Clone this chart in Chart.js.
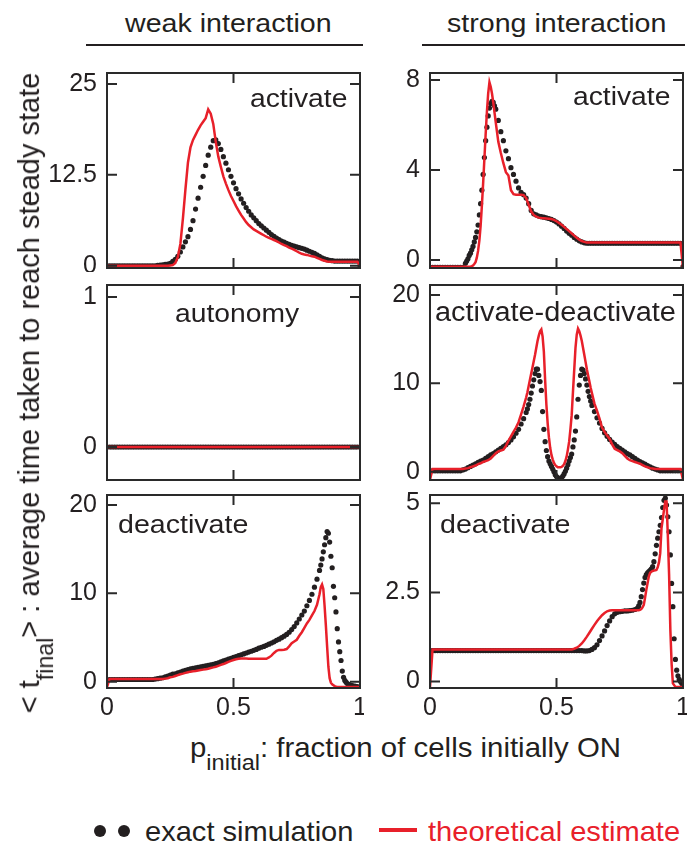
<!DOCTYPE html>
<html>
<head>
<meta charset="utf-8">
<script src="https://cdn.jsdelivr.net/npm/chart.js@4.4.1/dist/chart.umd.min.js"></script>
<style>
  html, body { margin: 0; padding: 0; background: #fff; }
  body { position: relative; width: 697px; height: 848px; overflow: hidden;
         font-family: 'Liberation Sans', Arial, Helvetica, sans-serif; color: #231f20; }
  canvas { position: absolute; }
  .txt { position: absolute; white-space: nowrap; line-height: 1; transform-origin: 0 0; }
  .rule { position: absolute; height: 2px; background: #231f20; }
  sub { font-size: 0.8em; vertical-align: -0.6em; line-height: 0; }
  .dot { position: absolute; width: 12px; height: 12px; border-radius: 50%; background: #231f20; }
</style>
</head>
<body>

<div class="txt" style="left:125px;top:10px;font-size:26px;transform:scaleX(1.1)">weak interaction</div>
<div class="rule" style="left:86px;top:44px;width:277px"></div>
<div class="txt" style="left:447px;top:10px;font-size:26px;transform:scaleX(1.1)">strong interaction</div>
<div class="rule" style="left:422px;top:44px;width:263px"></div>

<canvas id="cWeakAct" width="317" height="203" style="left:47px;top:69px"></canvas>
<canvas id="cStrongAct" width="317" height="203" style="left:370px;top:69px"></canvas>
<canvas id="cWeakAut" width="317" height="203" style="left:47px;top:281px"></canvas>
<canvas id="cStrongAD" width="317" height="203" style="left:370px;top:281px"></canvas>
<canvas id="cWeakDeact" width="317" height="237" style="left:47px;top:491px"></canvas>
<canvas id="cStrongDeact" width="317" height="237" style="left:370px;top:491px"></canvas>

<!-- panel labels -->
<div class="txt" style="left:250px;top:86px;font-size:25px;transform:scaleX(1.13)">activate</div>
<div class="txt" style="left:573px;top:84px;font-size:25px;transform:scaleX(1.13)">activate</div>
<div class="txt" style="left:175px;top:301px;font-size:25px;transform:scaleX(1.13)">autonomy</div>
<div class="txt" style="left:435px;top:299px;font-size:27px;transform:scaleX(1.07)">activate-deactivate</div>
<div class="txt" style="left:118px;top:511px;font-size:26px;transform:scaleX(1.1)">deactivate</div>
<div class="txt" style="left:440px;top:511px;font-size:26px;transform:scaleX(1.1)">deactivate</div>

<!-- axis titles -->
<div class="txt" id="ytitle" style="left:30px;top:393px;font-size:29px;transform-origin:50% 50%;transform:translate(-50%,-50%) rotate(-90deg)">&lt; t<sub>final</sub>&gt; : average time taken to reach steady state</div>
<div class="txt" style="left:190px;top:734px;font-size:28px;transform:scaleX(1.05)">p<sub>initial</sub>: fraction of cells initially ON</div>

<!-- legend -->
<div class="dot" style="left:94px;top:825px"></div>
<div class="dot" style="left:118px;top:825px"></div>
<div class="txt" style="left:145px;top:817px;font-size:28.5px;transform:scaleX(1.02)">exact simulation</div>
<div style="position:absolute;left:379px;top:828px;width:38px;height:4px;background:#e8202a"></div>
<div class="txt" style="left:428px;top:817px;font-size:28.5px;color:#e8202a;transform:scaleX(1.02)">theoretical estimate</div>

<script>
// ---- data: p_initial grids and <t_final> values ----
const pTicks = [0, 0.5, 1];

const pUniform = [0,0.01,0.02,0.03,0.04,0.05,0.06,0.07,0.08,0.09,0.1,0.11,0.12,0.13,0.14,0.15,0.16,0.17,0.18,0.19,
  0.2,0.21,0.22,0.23,0.24,0.25,0.26,0.27,0.28,0.29,0.3,0.31,0.32,0.33,0.34,0.35,0.36,0.37,0.38,0.39,
  0.4,0.41,0.42,0.43,0.44,0.45,0.46,0.47,0.48,0.49,0.5,0.51,0.52,0.53,0.54,0.55,0.56,0.57,0.58,0.59,
  0.6,0.61,0.62,0.63,0.64,0.65,0.66,0.67,0.68,0.69,0.7,0.71,0.72,0.73,0.74,0.75,0.76,0.77,0.78,0.79,
  0.8,0.81,0.82,0.83,0.84,0.85,0.86,0.87,0.88,0.89,0.9,0.91,0.92,0.93,0.94,0.95,0.96,0.97,0.98,0.99,1];

// weak interaction, activate
const weakActTicks = [0, 12.5, 25];
const weakActSim = [0,0,0,0,0,0,0,0,0,0, 0,0,0,0,0,0,0,0,0,0,
  0.05,0.1,0.15,0.2,0.25,0.35,0.6,0.9,1.3,1.9, 2.6,3.3,4.0,5.0,6.2,7.8,9.3,10.8,12.3,13.8,
  15.2,16.3,17.2,17.3,16.8,16.0,15.0,14.1,13.2,12.3, 11.4,10.6,9.9,9.2,8.6,8.0,7.5,7.0,6.6,6.2,
  5.8,5.5,5.2,4.9,4.6,4.3,4.05,3.8,3.6,3.4, 3.25,3.1,2.95,2.8,2.7,2.6,2.5,2.4,2.3,2.15,
  2.0,1.85,1.7,1.5,1.3,1.1,0.95,0.85,0.75,0.7, 0.65,0.65,0.65,0.65,0.65,0.65,0.65,0.65,0.65,0.65,0];
const weakActEst = [0,0,0,0,0,0,0,0,0,0, 0,0,0,0,0,0,0,0,0,0,
  0,0,0,0,0,0.05,0.1,0.4,1.2,3.0, 6.5,10.5,14.2,16.3,17.3,18.0,18.7,19.3,19.8,20.3,
  21.5,20.9,19.5,17.0,15.0,13.6,12.3,11.3,10.4,9.6, 8.9,8.2,7.6,7.0,6.5,6.0,5.6,5.3,5.0,4.8,
  4.6,4.4,4.2,4.0,3.85,3.7,3.55,3.4,3.2,3.0, 2.85,2.7,2.5,2.35,2.2,2.0,1.8,1.65,1.55,1.5,
  1.4,1.3,1.25,1.1,0.95,0.8,0.7,0.6,0.55,0.55, 0.55,0.55,0.55,0.55,0.55,0.55,0.55,0.55,0.55,0.55,0];

// strong interaction, activate
const strongActTicks = [0, 4, 8];
const pStrongAct = [0,0.01,0.02,0.03,0.04,0.05,0.06,0.07,0.08,0.09,0.1,0.11,0.12,0.13,
  0.14,0.145,0.15,0.155,0.16,0.165,0.17,0.175,0.18,0.185,0.19,0.195,0.2,0.205,0.21,0.215,0.22,0.225,0.23,0.235,0.24,0.245,0.25,0.255,0.26,
  0.27,0.28,0.29,0.3,0.31,0.32,0.33,0.34,0.35,0.36,0.37,0.38,0.39,0.4,0.41,0.42,0.43,0.44,0.45,0.46,0.47,0.48,0.49,
  0.5,0.51,0.52,0.53,0.54,0.55,0.56,0.57,0.58,0.59,0.6,0.61,0.62,0.63,0.64,0.65,0.66,0.67,0.68,0.69,
  0.7,0.71,0.72,0.73,0.74,0.75,0.76,0.77,0.78,0.79,0.8,0.81,0.82,0.83,0.84,0.85,0.86,0.87,0.88,0.89,
  0.9,0.91,0.92,0.93,0.94,0.95,0.96,0.97,0.98,0.99,1];
const strongActSim = [-0.33,-0.33,-0.33,-0.33,-0.33,-0.33,-0.33,-0.33,-0.33,-0.33,-0.33,-0.33,-0.33,-0.33,
  -0.15,-0.05,0.05,0.2,0.3,0.45,0.6,0.8,1.0,1.25,1.55,2.0,2.5,3.1,3.8,4.55,5.3,5.9,6.4,6.75,6.95,7.05,7.0,6.85,6.7,
  6.2,5.7,5.3,4.85,4.5,4.1,3.8,3.5,3.2,3.0,2.9,2.75,2.5,2.2,2.05,2.0,1.95,1.92,1.9,1.87,1.84,1.8,1.75,
  1.68,1.6,1.5,1.4,1.28,1.18,1.1,1.0,0.92,0.85,0.8,0.76,0.74,0.74,0.74,0.74,0.74,0.74,0.74,0.74,
  0.74,0.74,0.74,0.74,0.74,0.74,0.74,0.74,0.74,0.74,0.74,0.74,0.74,0.74,0.74,0.74,0.74,0.74,0.74,0.74,
  0.74,0.74,0.74,0.74,0.74,0.74,0.74,0.74,0.74,0.74,-0.3];
const strongActEst = [-0.3,-0.3,-0.3,-0.3,-0.3,-0.3,-0.3,-0.3,-0.3,-0.3,-0.3,-0.3,-0.3,-0.3,
  -0.3,-0.3,-0.3,-0.3,-0.3,-0.28,-0.25,-0.18,-0.1,0.1,0.4,0.85,1.5,2.4,3.4,4.5,5.6,6.6,7.4,7.9,7.7,7.4,7.0,6.55,6.1,
  5.25,4.75,4.3,3.9,3.75,3.1,2.92,2.9,2.9,2.9,2.88,2.75,2.45,2.15,2.0,1.92,1.88,1.86,1.85,1.84,1.83,1.82,1.78,
  1.72,1.64,1.56,1.47,1.37,1.28,1.18,1.08,0.98,0.9,0.84,0.8,0.77,0.77,0.77,0.77,0.77,0.77,0.77,0.77,
  0.77,0.77,0.77,0.77,0.77,0.77,0.77,0.77,0.77,0.77,0.77,0.77,0.77,0.77,0.77,0.77,0.77,0.77,0.77,0.77,
  0.77,0.77,0.77,0.77,0.77,0.77,0.77,0.77,0.77,0.77,-0.35];

// weak interaction, autonomy
const weakAutTicks = [0, 1];
const weakAutSim = [0,0,0,0,0,0,0,0,0,0, 0,0,0,0,0,0,0,0,0,0, 0,0,0,0,0,0,0,0,0,0, 0,0,0,0,0,0,0,0,0,0,
  0,0,0,0,0,0,0,0,0,0, 0,0,0,0,0,0,0,0,0,0, 0,0,0,0,0,0,0,0,0,0, 0,0,0,0,0,0,0,0,0,0,
  0,0,0,0,0,0,0,0,0,0, 0,0,0,0,0,0,0,0,0,0, 0];
const weakAutEst = [0,0,0,0,0,0,0,0,0,0, 0,0,0,0,0,0,0,0,0,0, 0,0,0,0,0,0,0,0,0,0, 0,0,0,0,0,0,0,0,0,0,
  0,0,0,0,0,0,0,0,0,0, 0,0,0,0,0,0,0,0,0,0, 0,0,0,0,0,0,0,0,0,0, 0,0,0,0,0,0,0,0,0,0,
  0,0,0,0,0,0,0,0,0,0, 0,0,0,0,0,0,0,0,0,0, 0];

// strong interaction, activate-deactivate
const strongADTicks = [0, 10, 20];
const pStrongAD = [0,0.01,0.02,0.03,0.04,0.05,0.06,0.07,0.08,0.09,0.1,0.11,0.12,0.13,0.14,0.15,0.16,0.17,0.18,0.19,
  0.2,0.21,0.22,0.23,0.24,0.25,0.26,0.27,0.28,0.29,0.3,0.31,0.32,0.33,0.34,0.35,0.36,0.37,
  0.38,0.385,0.39,0.395,0.4,0.405,0.41,0.415,0.42,0.425,0.43,0.435,0.44,0.445,0.45,0.455,0.46,0.465,0.47,0.475,
  0.48,0.485,0.49,0.495,0.5,0.505,0.51,0.515,0.52,0.525,0.53,0.535,0.54,0.545,0.55,0.555,0.56,0.565,0.57,0.575,
  0.58,0.585,0.59,0.595,0.6,0.605,0.61,0.615,0.62,0.625,0.63,0.635,0.64,
  0.65,0.66,0.67,0.68,0.69,0.7,0.71,0.72,0.73,0.74,0.75,0.76,0.77,0.78,0.79,0.8,0.81,0.82,0.83,0.84,
  0.85,0.86,0.87,0.88,0.89,0.9,0.91,0.92,0.93,0.94,0.95,0.96,0.97,0.98,0.99,1];
const strongADSim = [0.1,0.1,0.1,0.1,0.1,0.1,0.1,0.1,0.1,0.1,0.1,0.1,0.1,0.2,0.3,0.45,0.6,0.75,0.9,1.05,
  1.2,1.3,1.5,1.7,1.9,2.05,2.25,2.45,2.65,2.85,3.05,3.3,3.6,3.95,4.35,4.8,5.4,6.0,
  6.7,7.1,7.6,8.2,8.9,9.7,10.4,11.1,11.6,11.6,10.9,10.2,9.2,6.8,4.8,3.4,2.4,1.7,1.2,0.9,
  0.6,0.3,0.0,-0.35,-0.55,-0.7,-0.75,-0.75,-0.7,-0.5,-0.25,0.05,0.4,0.8,1.2,1.6,2.0,2.8,3.6,4.6,
  6.2,8.2,9.8,10.9,11.6,11.5,11.1,10.5,9.8,9.1,8.5,8.0,7.5,
  6.8,6.1,5.5,4.9,4.4,4.0,3.65,3.35,3.1,2.85,2.65,2.45,2.25,2.05,1.9,1.7,1.5,1.3,1.15,1.0,
  0.85,0.7,0.55,0.4,0.3,0.2,0.1,0.1,0.1,0.1,0.1,0.1,0.1,0.1,0.1,0.1];
const strongADEst = [-0.9,0.3,0.3,0.3,0.3,0.3,0.3,0.3,0.3,0.3,0.3,0.3,0.3,0.3,0.35,0.4,0.5,0.6,0.7,0.85,
  0.95,1.1,1.2,1.3,1.5,1.8,2.1,2.3,2.4,2.5,2.9,3.5,4.0,4.5,5.0,5.6,6.5,7.4,
  8.4,9.0,9.7,10.4,11.1,11.8,12.5,13.2,14.0,14.8,15.4,15.9,16.1,15.3,13.6,10.4,7.6,5.5,3.9,2.7,
  1.9,1.4,1.0,0.75,0.6,0.5,0.5,0.5,0.55,0.65,0.85,1.2,1.7,2.5,3.4,4.8,6.4,9.0,11.5,14.0,
  15.5,16.2,15.9,15.4,14.8,14.0,13.2,12.4,11.6,10.9,10.2,9.5,8.9,
  7.7,6.9,6.0,5.0,4.5,4.1,3.7,3.1,2.6,2.45,2.3,2.1,1.8,1.5,1.3,1.2,1.1,1.0,0.9,0.75,
  0.6,0.5,0.4,0.35,0.3,0.3,0.3,0.3,0.3,0.3,0.3,0.3,0.3,0.3,0.3,-0.9];

// weak interaction, deactivate
const weakDeactTicks = [0, 10, 20];
const pWeakDeact = [0,0.01,0.02,0.03,0.04,0.05,0.06,0.07,0.08,0.09,0.1,0.11,0.12,0.13,0.14,0.15,0.16,0.17,0.18,0.19,
  0.2,0.21,0.22,0.23,0.24,0.25,0.26,0.27,0.28,0.29,0.3,0.31,0.32,0.33,0.34,0.35,0.36,0.37,0.38,0.39,
  0.4,0.41,0.42,0.43,0.44,0.45,0.46,0.47,0.48,0.49,0.5,0.51,0.52,0.53,0.54,0.55,0.56,0.57,0.58,0.59,
  0.6,0.61,0.62,0.63,0.64,0.65,0.66,0.67,0.68,0.69,0.7,0.71,0.72,0.73,0.74,0.75,0.76,0.77,0.78,0.79,
  0.8,0.81,0.82,0.83,0.84,
  0.845,0.85,0.855,0.86,0.865,0.87,0.875,0.88,0.885,0.89,0.895,0.9,0.905,0.91,0.915,0.92,0.925,0.93,0.935,0.94,
  0.945,0.95,0.955,0.96, 0.97,0.98,0.99,1];
const weakDeactSim = [0.2,0.25,0.25,0.25,0.25,0.25,0.25,0.25,0.25,0.25,0.25,0.25,0.25,0.25,0.25,0.25,0.25,0.25,0.25,0.3,
  0.35,0.4,0.45,0.55,0.65,0.75,0.85,0.9,1.0,1.1,1.2,1.3,1.38,1.45,1.5,1.56,1.62,1.68,1.74,1.8,
  1.86,1.92,1.98,2.05,2.15,2.25,2.35,2.45,2.55,2.65,2.75,2.85,2.95,3.05,3.15,3.25,3.35,3.45,3.55,3.65,
  3.8,3.9,4.0,4.12,4.25,4.38,4.52,4.68,4.82,4.98,5.15,5.35,5.6,5.9,6.25,6.65,7.1,7.55,8.0,8.6,
  9.2,9.9,10.7,11.6,12.6,
  13.2,13.9,14.7,15.5,16.3,17.0,16.8,15.8,14.2,12.9,10.8,9.5,7.9,6.0,4.5,3.4,2.4,1.2,0.5,0.15,
  -0.05,-0.2,-0.3,-0.35, -0.45,-0.5,-0.55,-0.6];
const weakDeactEst = [-0.6,0.3,0.3,0.3,0.3,0.3,0.3,0.3,0.3,0.3,0.3,0.3,0.3,0.3,0.3,0.3,0.3,0.3,0.3,0.3,
  0.3,0.3,0.3,0.35,0.4,0.5,0.55,0.65,0.75,0.85,0.92,1.0,1.08,1.14,1.18,1.22,1.27,1.32,1.37,1.42,
  1.47,1.55,1.62,1.7,1.8,1.9,2.0,2.12,2.24,2.36,2.46,2.54,2.6,2.64,2.64,2.62,2.6,2.6,2.6,2.6,
  2.6,2.6,2.6,2.6,2.75,2.95,3.25,3.5,3.6,3.6,3.62,3.7,4.0,4.35,4.55,4.75,5.2,5.6,6.1,6.6,
  7.0,7.5,8.0,8.7,9.9,
  10.7,11.0,10.5,8.6,6.4,4.0,1.7,0.4,-0.1,-0.3,-0.4,-0.5,-0.55,-0.6,-0.6,-0.6,-0.6,-0.6,-0.6,-0.6,
  -0.6,-0.6,-0.6,-0.6, -0.6,-0.6,-0.6,-0.6];

// strong interaction, deactivate
const strongDeactTicks = [0, 2.5, 5];
const pStrongDeact = [0,0.01,0.02,0.03,0.04,0.05,0.06,0.07,0.08,0.09,0.1,0.11,0.12,0.13,0.14,0.15,0.16,0.17,0.18,0.19,
  0.2,0.21,0.22,0.23,0.24,0.25,0.26,0.27,0.28,0.29,0.3,0.31,0.32,0.33,0.34,0.35,0.36,0.37,0.38,0.39,
  0.4,0.41,0.42,0.43,0.44,0.45,0.46,0.47,0.48,0.49,0.5,0.51,0.52,0.53,0.54,0.55,0.56,0.57,0.58,0.59,
  0.6,0.61,0.62,0.63,0.64,0.65,0.66,0.67,0.68,0.69,0.7,0.71,0.72,0.73,0.74,0.75,0.76,0.77,0.78,0.79,
  0.8,0.81,0.82,
  0.825,0.83,0.835,0.84,0.845,0.85,0.855,0.86,0.865,0.87,0.875,0.88,0.885,0.89,0.895,0.9,0.905,0.91,0.915,0.92,
  0.925,0.93,0.935,0.94,0.945,0.95,0.955,0.96,0.965,0.97,0.975,0.98,0.985,0.99,0.995,1];
const strongDeactSim = [0.87,0.87,0.87,0.87,0.87,0.87,0.87,0.87,0.87,0.87,0.87,0.87,0.87,0.87,0.87,0.87,0.87,0.87,0.87,0.87,
  0.87,0.87,0.87,0.87,0.87,0.87,0.87,0.87,0.87,0.87,0.87,0.87,0.87,0.87,0.87,0.87,0.87,0.87,0.87,0.87,
  0.87,0.87,0.87,0.87,0.87,0.87,0.87,0.87,0.87,0.87,0.87,0.87,0.87,0.87,0.87,0.87,0.87,0.87,0.87,0.87,
  0.87,0.86,0.86,0.87,0.9,0.95,1.03,1.15,1.28,1.42,1.57,1.7,1.82,1.9,1.94,1.96,1.97,1.98,1.98,1.99,
  2.0,2.02,2.06,
  2.12,2.22,2.38,2.58,2.76,2.92,3.0,3.05,3.08,3.12,3.16,3.22,3.36,3.58,3.82,4.02,4.2,4.38,4.6,4.88,
  5.08,5.14,4.95,4.62,4.2,3.55,2.75,2.1,1.2,0.62,0.32,0.16,0.06,0.0,-0.05,-0.1];
const strongDeactEst = [-0.15,0.9,0.9,0.9,0.9,0.9,0.9,0.9,0.9,0.9,0.9,0.9,0.9,0.9,0.9,0.9,0.9,0.9,0.9,0.9,
  0.9,0.9,0.9,0.9,0.9,0.9,0.9,0.9,0.9,0.9,0.9,0.9,0.9,0.9,0.9,0.9,0.9,0.9,0.9,0.9,
  0.9,0.9,0.9,0.9,0.9,0.9,0.9,0.9,0.9,0.9,0.9,0.9,0.9,0.9,0.9,0.9,0.9,0.92,0.95,1.0,
  1.07,1.16,1.26,1.37,1.48,1.59,1.69,1.78,1.86,1.92,1.97,1.99,2.0,2.0,2.0,2.0,2.0,2.0,2.0,2.0,
  2.0,2.0,2.0,
  2.0,2.01,2.03,2.08,2.15,2.35,2.57,2.76,2.95,3.05,3.08,3.1,3.11,3.12,3.13,3.2,3.34,3.6,4.3,4.55,
  4.82,5.05,5.05,4.1,3.0,1.45,0.5,-0.05,-0.1,-0.15,-0.15,-0.15,-0.15,-0.15,-0.15,-0.15];

// ---- drawing ----
const INK = '#231f20';
const RED = '#e8202a';
Chart.defaults.font.family = "'Liberation Sans', Arial, Helvetica, sans-serif";
Chart.defaults.font.size = 25;
Chart.defaults.color = INK;

// box around the plot with inward ticks on all four sides
const frame = {
  id: 'frame',
  afterDatasetsDraw(chart, args, opts) {
    const { ctx, chartArea: a, scales: { x, y } } = chart;
    ctx.save();
    ctx.strokeStyle = '#2a2a2a';
    ctx.lineWidth = 2;
    ctx.strokeRect(a.left, a.top, a.right - a.left, a.bottom - a.top);
    ctx.beginPath();
    opts.xTicks.forEach(v => {
      const px = x.getPixelForValue(v);
      ctx.moveTo(px, a.top); ctx.lineTo(px, a.top + 10);
      ctx.moveTo(px, a.bottom); ctx.lineTo(px, a.bottom - 10);
    });
    opts.yTicks.forEach(v => {
      const py = y.getPixelForValue(v);
      ctx.moveTo(a.left, py); ctx.lineTo(a.left + 10, py);
      ctx.moveTo(a.right, py); ctx.lineTo(a.right - 10, py);
    });
    ctx.stroke();
    ctx.restore();
  }
};

function pts(p, v) {
  return p.map((x, i) => ({ x: x, y: v[i] }));
}

function noPad(s) {
  s.paddingTop = 0; s.paddingBottom = 0; s.paddingLeft = 0; s.paddingRight = 0;
}

function makePanel(id, p, sim, est, yMin, yMax, yTicks, showX) {
  new Chart(document.getElementById(id), {
    type: 'scatter',
    data: {
      datasets: [
        { label: 'theoretical estimate', data: pts(p, est), showLine: true, borderColor: RED,
          borderWidth: 2.5, pointRadius: 0, tension: 0 },
        { label: 'exact simulation', data: pts(p, sim), showLine: false, pointRadius: 2.6,
          pointBackgroundColor: INK, pointBorderWidth: 0, borderColor: INK }
      ]
    },
    options: {
      responsive: false,
      animation: false,
      events: [],
      layout: { padding: { top: 4, right: 4, bottom: showX ? 0 : 4, left: 0 } },
      plugins: {
        legend: { display: false },
        tooltip: { enabled: false },
        frame: { xTicks: pTicks, yTicks: yTicks }
      },
      scales: {
        x: {
          type: 'linear', min: 0, max: 1, display: showX,
          grid: { display: false, drawTicks: false }, border: { display: false },
          afterBuildTicks: s => { s.ticks = pTicks.map(v => ({ value: v })); },
          afterFit: s => { s.height = showX ? 40 : 0; noPad(s); },
          ticks: { padding: 5, autoSkip: false, maxRotation: 0, callback: v => String(v) }
        },
        y: {
          min: yMin, max: yMax,
          grid: { display: false, drawTicks: false }, border: { display: false },
          afterBuildTicks: s => { s.ticks = yTicks.map(v => ({ value: v })); },
          afterFit: s => { s.width = 60; noPad(s); },
          ticks: { padding: 10, autoSkip: false, callback: v => String(v) }
        }
      }
    },
    plugins: [frame]
  });
}

makePanel('cWeakAct', pUniform, weakActSim, weakActEst, -0.3, 26.5, weakActTicks, false);
makePanel('cStrongAct', pStrongAct, strongActSim, strongActEst, -0.36, 8.31, strongActTicks, false);
makePanel('cWeakAut', pUniform, weakAutSim, weakAutEst, -0.22, 1.08, weakAutTicks, false);
makePanel('cStrongAD', pStrongAD, strongADSim, strongADEst, -0.94, 21.13, strongADTicks, false);
makePanel('cWeakDeact', pWeakDeact, weakDeactSim, weakDeactEst, -0.71, 21.13, weakDeactTicks, true);
makePanel('cStrongDeact', pStrongDeact, strongDeactSim, strongDeactEst, -0.18, 5.23, strongDeactTicks, true);
</script>
</body>
</html>
